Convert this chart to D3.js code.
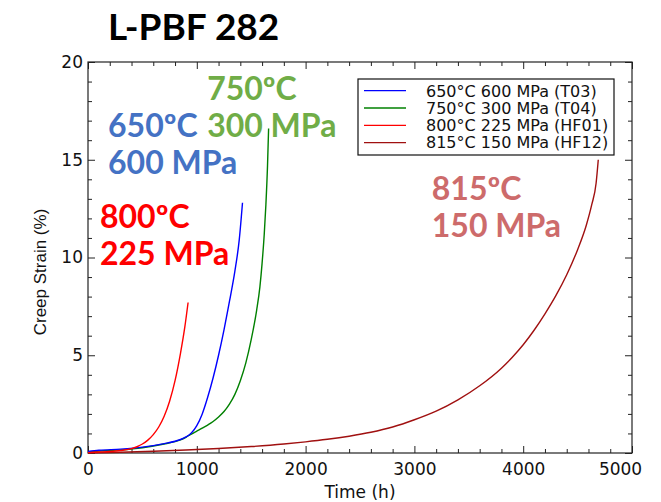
<!DOCTYPE html>
<html>
<head>
<meta charset="utf-8">
<script src="https://cdn.jsdelivr.net/npm/d3@7"></script>
<style>
  html, body { margin: 0; padding: 0; background: #fff; }
  svg { display: block; }
</style>
</head>
<body>
<svg id="chart" width="661" height="502"></svg>
<script>
// ---------- data ----------
const seriesNames = ["650°C 600 MPa (T03)", "750°C 300 MPa (T04)", "800°C 225 MPa (HF01)", "815°C 150 MPa (HF12)"];
const seriesColors = ["#0000ff", "#008000", "#ff0000", "#a01010"];

const timeT03   = [0, 100, 300, 500, 700, 800, 850, 900, 950, 1000, 1050, 1100, 1150, 1200, 1250, 1300, 1350, 1390, 1420];
const strainT03 = [0.08, 0.14, 0.2, 0.3, 0.48, 0.6, 0.69, 0.82, 1.02, 1.4, 2.0, 2.85, 3.85, 5.0, 6.3, 7.75, 9.3, 10.9, 12.8];

const timeT04   = [0, 100, 300, 500, 700, 800, 850, 900, 950, 1000, 1050, 1100, 1150, 1200, 1250, 1300, 1350, 1400, 1450, 1500, 1550, 1580, 1600, 1620, 1635, 1650, 1660];
const strainT04 = [0.05, 0.1, 0.16, 0.27, 0.46, 0.58, 0.67, 0.8, 0.97, 1.12, 1.27, 1.43, 1.61, 1.84, 2.12, 2.5, 3.0, 3.7, 4.6, 5.8, 7.3, 8.5, 9.7, 11.2, 12.7, 14.7, 16.6];

const timeHF01   = [0, 100, 200, 300, 400, 450, 500, 550, 600, 650, 700, 750, 800, 850, 890, 920];
const strainHF01 = [0.02, 0.05, 0.08, 0.13, 0.22, 0.32, 0.46, 0.66, 0.94, 1.33, 1.88, 2.65, 3.7, 5.1, 6.45, 7.7];

const timeHF12   = [0, 300, 600, 900, 1200, 1500, 1800, 2000, 2200, 2400, 2600, 2800, 3000, 3200, 3400, 3600, 3800, 3900, 4000, 4100, 4200, 4300, 4400, 4500, 4580, 4630, 4670, 4690];
const strainHF12 = [0.0, 0.04, 0.09, 0.15, 0.23, 0.33, 0.46, 0.57, 0.7, 0.86, 1.06, 1.33, 1.7, 2.14, 2.72, 3.44, 4.34, 4.9, 5.54, 6.28, 7.12, 8.05, 9.12, 10.4, 11.65, 12.7, 13.8, 15.0];

const xMajorTicks = [0, 1000, 2000, 3000, 4000, 5000];
const yMajorTicks = [0, 5, 10, 15, 20];

const annotLines = [["650ºC", "600 MPa"], ["750ºC", "300 MPa"], ["800ºC", "225 MPa"], ["815ºC", "150 MPa"]];
const annotColors = ["#4472c4", "#70ad47", "#ff0000", "#cd6b6b"];
// anchor (time, strain) of first text line baseline
const annotTime   = [184, 1095, 110, 3160];
const annotStrain = [16.15, 18.05, 11.5, 12.95];

const titleText = "L-PBF 282";

// ---------- layout ----------
const svg = d3.select("#chart");
const L = 88, R = 632, T = 62, B = 453;

const x = d3.scaleLinear().domain([0, 5000]).range([L, R]);
const y = d3.scaleLinear().domain([0, 20]).range([B, T]);

const xMinor = d3.range(0, 5001, 200).filter(v => v % 1000 !== 0);
const yMinor = d3.range(0, 21, 1).filter(v => v % 5 !== 0);

// title
svg.append("text")
  .attr("x", 108).attr("y", 40)
  .attr("font-family", "Lato, 'Open Sans', sans-serif")
  .attr("font-weight", "bold")
  .attr("font-size", 37)
  .attr("fill", "#000")
  .text(titleText);

const axisFont = "'DejaVu Sans', sans-serif";

function styleAxis(g) {
  g.select(".domain").remove();
  g.selectAll("line").attr("stroke", "#222").attr("stroke-width", 1);
  g.selectAll("text").attr("font-family", axisFont).attr("font-size", 17).attr("fill", "#111");
}

// bottom major with labels
const gxb = svg.append("g").attr("transform", `translate(0,${B})`)
  .call(d3.axisBottom(x).tickValues(xMajorTicks).tickSize(-7).tickPadding(10).tickFormat(d3.format("d")));
styleAxis(gxb);
gxb.selectAll("text").filter(d => d === 5000).attr("dx", -12);
svg.append("g").attr("transform", `translate(0,${B})`)
  .call(d3.axisBottom(x).tickValues(xMinor).tickSize(-4).tickFormat(""))
  .call(styleAxis);
// top
svg.append("g").attr("transform", `translate(0,${T})`)
  .call(d3.axisTop(x).tickValues(xMajorTicks).tickSize(-7).tickFormat(""))
  .call(styleAxis);
svg.append("g").attr("transform", `translate(0,${T})`)
  .call(d3.axisTop(x).tickValues(xMinor).tickSize(-4).tickFormat(""))
  .call(styleAxis);
// left
svg.append("g").attr("transform", `translate(${L},0)`)
  .call(d3.axisLeft(y).tickValues(yMajorTicks).tickSize(-7).tickPadding(5).tickFormat(d3.format("d")))
  .call(styleAxis);
svg.append("g").attr("transform", `translate(${L},0)`)
  .call(d3.axisLeft(y).tickValues(yMinor).tickSize(-4).tickFormat(""))
  .call(styleAxis);
// right
svg.append("g").attr("transform", `translate(${R},0)`)
  .call(d3.axisRight(y).tickValues(yMajorTicks).tickSize(-7).tickFormat(""))
  .call(styleAxis);
svg.append("g").attr("transform", `translate(${R},0)`)
  .call(d3.axisRight(y).tickValues(yMinor).tickSize(-4).tickFormat(""))
  .call(styleAxis);

// frame
svg.append("rect")
  .attr("x", L).attr("y", T).attr("width", R - L).attr("height", B - T)
  .attr("fill", "none").attr("stroke", "#222").attr("stroke-width", 1.2);

// axis titles
svg.append("text")
  .attr("x", (L + R) / 2).attr("y", 498)
  .attr("text-anchor", "middle")
  .attr("font-family", axisFont).attr("font-size", 17).attr("fill", "#111")
  .text("Time (h)");
svg.append("text")
  .attr("transform", `translate(46,272) rotate(-90)`)
  .attr("text-anchor", "middle")
  .attr("font-family", "'Liberation Sans', Arial, sans-serif").attr("font-size", 17).attr("fill", "#111")
  .text("Creep Strain (%)");

// curves
const seriesData = [
  d3.zip(timeT03, strainT03),
  d3.zip(timeT04, strainT04),
  d3.zip(timeHF01, strainHF01),
  d3.zip(timeHF12, strainHF12)
];
const line = d3.line().x(d => x(d[0])).y(d => y(d[1])).curve(d3.curveMonotoneX);
[3, 1, 0, 2].forEach(i => {
  svg.append("path")
    .datum(seriesData[i])
    .attr("d", line)
    .attr("fill", "none")
    .attr("stroke", seriesColors[i])
    .attr("stroke-width", 1.4);
});

// legend
const lg = svg.append("g");
lg.append("rect").attr("x", 358).attr("y", 79).attr("width", 256).attr("height", 76)
  .attr("fill", "#fff").attr("stroke", "#111").attr("stroke-width", 1.2);
seriesNames.forEach((n, i) => {
  const cy = 90.7 + i * 17.3;
  lg.append("line").attr("x1", 364).attr("x2", 406).attr("y1", cy).attr("y2", cy)
    .attr("stroke", seriesColors[i]).attr("stroke-width", 1.3);
  lg.append("text").attr("x", 426).attr("y", cy + 5.8)
    .attr("font-family", axisFont).attr("font-size", 16).attr("fill", "#111")
    .text(n);
});

// annotations
annotLines.forEach((lines, i) => {
  const t = svg.append("text")
    .attr("x", x(annotTime[i])).attr("y", y(annotStrain[i]))
    .attr("font-family", "Lato, 'Open Sans', sans-serif")
    .attr("font-weight", "bold")
    .attr("font-size", 32)
    .attr("fill", annotColors[i]);
  lines.forEach((s, k) => {
    t.append("tspan").attr("x", x(annotTime[i])).attr("dy", k === 0 ? 0 : 37).text(s);
  });
});
</script>
</body>
</html>
